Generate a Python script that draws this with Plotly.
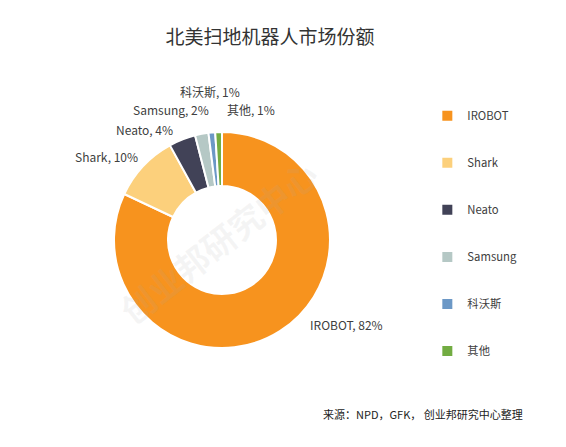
import plotly.graph_objects as go

# data
brands = ["IROBOT", "Shark", "Neato", "Samsung", "科沃斯", "其他"]
shares = [82, 10, 4, 2, 1, 1]
colors = ["#F7931E", "#FCD07C", "#414257", "#B5C8C5", "#6C98C6", "#72AC42"]

title_text = "北美扫地机器人市场份额"
source_text = "来源：NPD，GFK， 创业邦研究中心整理"
watermark_text = "创业邦研究中心"

# where each slice label sits (paper coords, same order as brands)
label_pos = [(0.613, 0.273), (0.189, 0.649), (0.256, 0.711), (0.302, 0.756), (0.371, 0.796), (0.443, 0.756)]

font_family = "Noto Sans CJK SC, Microsoft YaHei, sans-serif"

# padded legend names so the rows are spaced out like the original
legend_names = [f"&nbsp;<br>{b}<br>&nbsp;" for b in brands]

fig = go.Figure()
fig.add_trace(
    go.Pie(
        labels=legend_names,
        values=shares,
        hole=0.5,
        sort=False,
        direction="clockwise",
        rotation=0,
        marker=dict(colors=colors, line=dict(color="white", width=2)),
        textinfo="none",
        hovertemplate="%{value}%<extra></extra>",
        domain=dict(x=[0.2014, 0.5830], y=[0.2215, 0.7047]),
    )
)

# slice labels
for (x, y), b, s in zip(label_pos, brands, shares):
    fig.add_annotation(
        x=x, y=y, xref="paper", yref="paper", xanchor="center", yanchor="middle",
        showarrow=False, text=f"{b}, {s}%", font=dict(size=12, color="#404040"),
    )

# source note
fig.add_annotation(
    x=0.927, y=0.074, xref="paper", yref="paper", xanchor="right", yanchor="middle",
    showarrow=False, text=source_text, font=dict(size=11, color="#222222"),
)

# faint watermark
fig.add_annotation(
    x=0.385, y=0.46, xref="paper", yref="paper", xanchor="center", yanchor="middle",
    showarrow=False, textangle=-38,
    text=f"<b>{watermark_text}</b>", font=dict(size=34, color="rgba(170,170,170,0.12)"),
)

fig.update_layout(
    width=566,
    height=447,
    margin=dict(l=0, r=0, t=0, b=0, autoexpand=False),
    paper_bgcolor="white",
    font=dict(family=font_family, color="#404040"),
    title=dict(text=title_text, x=0.477, xanchor="center", y=0.917, yanchor="middle",
               font=dict(size=19, color="#333333")),
    legend=dict(
        x=0.755, y=0.805, xanchor="left", yanchor="top",
        font=dict(size=11.3, color="#404040"),
        bgcolor="rgba(0,0,0,0)",
    ),
)

# the page body has a default 8px margin; drop it so the figure sits at 0,0
fig.write_html(
    "out.html",
    config={"displayModeBar": False},
    post_script="document.body.style.margin='0';",
)
